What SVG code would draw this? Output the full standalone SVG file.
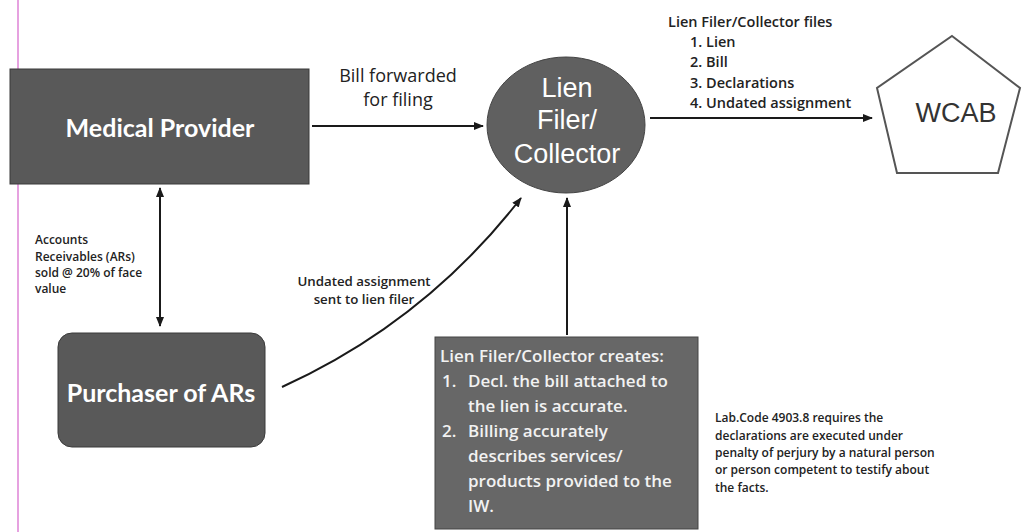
<svg xmlns="http://www.w3.org/2000/svg" width="1025" height="532" viewBox="0 0 1025 532">
<style>
.box{fill:#595959;stroke:#3a3a3a;stroke-width:1}
.wt{fill:#fff;font-family:Lato,"Open Sans",sans-serif;font-weight:bold}
.lbl{fill:#222;font-family:"Open Sans","Noto Sans",sans-serif;font-weight:600}
.conn{stroke:#1a1a1a;stroke-width:2;fill:none}
</style>
<defs>
<marker id="ah" markerWidth="10" markerHeight="10" refX="9" refY="5" orient="auto" markerUnits="userSpaceOnUse">
<path d="M0,1 L10,5 L0,9 Z" fill="#1a1a1a"/>
</marker>
<marker id="ahs" markerWidth="10" markerHeight="10" refX="1" refY="5" orient="auto" markerUnits="userSpaceOnUse">
<path d="M10,1 L0,5 L10,9 Z" fill="#1a1a1a"/>
</marker>
</defs>
<rect width="1025" height="532" fill="#fff"/>
<line x1="18" y1="0" x2="18" y2="532" stroke="#e6a2e0" stroke-width="2"/>

<g id="medical-provider">
<rect class="box" x="10" y="69" width="299" height="115"/>
<text class="wt" x="160" y="137" font-size="25" text-anchor="middle">Medical Provider</text>
</g>

<g id="lien-filer">
<ellipse cx="566" cy="125" rx="79" ry="68" fill="#606060" stroke="#444" stroke-width="1"/>
<text fill="#fff" font-family="'Liberation Sans',Arial,sans-serif" font-size="27" text-anchor="middle"><tspan x="567" y="97">Lien</tspan><tspan x="567" y="129">Filer/</tspan><tspan x="567" y="163">Collector</tspan></text>
</g>

<g id="wcab">
<polygon points="952,36 1020,88 998,173 897,173 877,88" fill="#fff" stroke="#555" stroke-width="2"/>
<text x="956" y="122" fill="#333" font-family="'Liberation Sans',Arial,sans-serif" font-size="27" text-anchor="middle">WCAB</text>
</g>

<g id="purchaser">
<rect class="box" x="58" y="333" width="207" height="114" rx="14"/>
<text class="wt" x="161" y="402" font-size="25" text-anchor="middle">Purchaser of ARs</text>
</g>

<g id="creates-box">
<rect x="435" y="337" width="263" height="192" fill="#676767" stroke="#444" stroke-width="1"/>
<text fill="#f2f2f2" font-family="'Open Sans',sans-serif" font-weight="600" font-size="17"><tspan x="440" y="362">Lien Filer/Collector creates:</tspan><tspan x="442" y="387">1.</tspan><tspan x="468" y="387">Decl. the bill attached to</tspan><tspan x="468" y="412">the lien is accurate.</tspan><tspan x="442" y="437">2.</tspan><tspan x="468" y="437">Billing accurately</tspan><tspan x="468" y="462">describes services/</tspan><tspan x="468" y="487">products provided to the</tspan><tspan x="468" y="512">IW.</tspan></text>
</g>

<g id="lab-code-note">
<text class="lbl" font-size="12"><tspan x="715" y="422">Lab.Code 4903.8 requires the</tspan><tspan x="715" y="440">declarations are executed under</tspan><tspan x="715" y="457">penalty of perjury by a natural person</tspan><tspan x="715" y="474">or person competent to testify  about</tspan><tspan x="715" y="492">the facts.</tspan></text>
</g>

<g id="connectors">
<line class="conn" x1="312" y1="126" x2="483" y2="126" marker-end="url(#ah)"/>
<line class="conn" x1="650" y1="118" x2="872" y2="118" marker-end="url(#ah)"/>
<line class="conn" x1="160" y1="188" x2="160" y2="326" marker-start="url(#ahs)" marker-end="url(#ah)"/>
<path class="conn" d="M282,387 Q425,322 521,198" marker-end="url(#ah)"/>
<line class="conn" x1="567" y1="335" x2="567" y2="198" marker-end="url(#ah)"/>
</g>

<g id="labels">
<text fill="#222" font-family="'Open Sans','Noto Sans',sans-serif" font-size="18" text-anchor="middle"><tspan x="398" y="82">Bill forwarded</tspan><tspan x="398" y="106">for filing</tspan></text>
<text class="lbl" font-size="14.5"><tspan x="668" y="27">Lien Filer/Collector files</tspan><tspan x="690" y="47">1. Lien</tspan><tspan x="690" y="67">2. Bill</tspan><tspan x="690" y="88">3. Declarations</tspan><tspan x="690" y="108">4. Undated assignment</tspan></text>
<text class="lbl" font-size="12"><tspan x="35" y="244">Accounts</tspan><tspan x="35" y="261">Receivables (ARs)</tspan><tspan x="35" y="277">sold @ 20% of face</tspan><tspan x="35" y="293">value</tspan></text>
<text class="lbl" font-size="13.3" text-anchor="middle"><tspan x="364" y="286">Undated assignment</tspan><tspan x="364" y="304">sent to lien filer</tspan></text>
</g>
</svg>
